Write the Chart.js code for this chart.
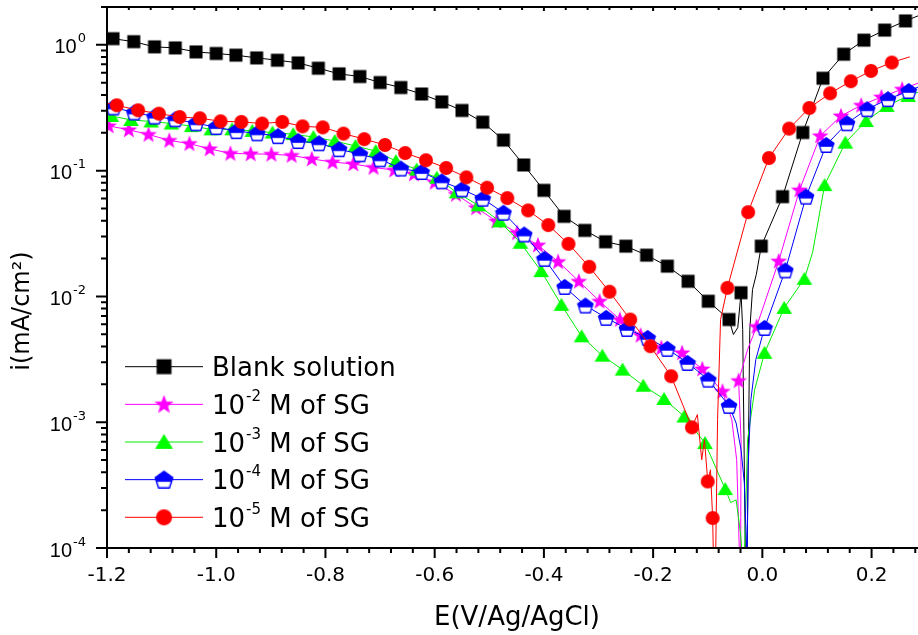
<!DOCTYPE html>
<html>
<head>
<meta charset="utf-8">
<script src="https://cdn.jsdelivr.net/npm/chart.js@4.4.0/dist/chart.umd.min.js"></script>
<style>html,body{margin:0;padding:0;background:#fff}</style>
</head>
<body>
<canvas id="tafel" width="918" height="635"></canvas>
<script>
// E in V vs Ag/AgCl, i in mA/cm2.
// m = 1 where a symbol sits, 0 for bare trace points (noise, spikes, ends)
const blankE = [-1.200,-1.189,-1.151,-1.113,-1.075,-1.037,-1.000,-0.964,-0.926,-0.888,-0.850,-0.813,-0.775,-0.737,-0.700,-0.662,-0.624,-0.587,-0.550,-0.512,-0.474,-0.437,-0.400,-0.363,-0.325,-0.287,-0.250,-0.212,-0.174,-0.136,-0.099,-0.061,-0.053,-0.045,-0.039,-0.036,-0.031,-0.028,-0.023,-0.018,-0.011,-0.002,0.037,0.074,0.111,0.149,0.186,0.224,0.262,0.298];
const blankI = [1.17,1.12,1.06,0.964,0.946,0.879,0.854,0.828,0.788,0.755,0.719,0.652,0.588,0.560,0.502,0.458,0.407,0.352,0.301,0.243,0.175,0.111,0.0697,0.0433,0.0335,0.0272,0.0251,0.0213,0.0174,0.0132,0.00916,0.00655,0.00498,0.00565,0.0107,0.00545,0.00008,0.00008,0.00545,0.01135,0.0150,0.0251,0.0621,0.201,0.543,0.843,1.09,1.31,1.55,1.79];
const blankM = [0,1,1,1,1,1,1,1,1,1,1,1,1,1,1,1,1,1,1,1,1,1,1,1,1,1,1,1,1,1,1,1,0,0,1,0,0,0,0,0,0,1,1,1,1,1,1,1,1,0];

const sg2E = [-1.200,-1.197,-1.160,-1.124,-1.086,-1.049,-1.012,-0.974,-0.937,-0.899,-0.862,-0.825,-0.787,-0.749,-0.712,-0.674,-0.638,-0.600,-0.561,-0.524,-0.487,-0.449,-0.411,-0.374,-0.336,-0.298,-0.261,-0.223,-0.185,-0.147,-0.110,-0.073,-0.056,-0.047,-0.0416,-0.0398,-0.039,-0.0435,-0.027,-0.0105,0.030,0.068,0.106,0.144,0.181,0.218,0.256,0.285];
const sg2I = [0.234,0.227,0.211,0.194,0.174,0.164,0.149,0.137,0.136,0.135,0.132,0.124,0.117,0.113,0.106,0.101,0.0940,0.0807,0.0648,0.0507,0.0397,0.0321,0.0256,0.0189,0.0132,0.00916,0.00655,0.00491,0.00390,0.00356,0.00265,0.00176,0.00105,0.000503,0.00008,0.00008,0.000726,0.00214,0.00378,0.00576,0.0191,0.0701,0.189,0.272,0.331,0.385,0.444,0.496];
const sg2M = [0,1,1,1,1,1,1,1,1,1,1,1,1,1,1,1,1,1,1,1,1,1,1,1,1,1,1,1,1,1,1,1,0,0,0,0,0,1,0,1,1,1,1,1,1,1,1,0];

const sg3E = [-1.200,-1.192,-1.156,-1.119,-1.082,-1.045,-1.009,-0.971,-0.934,-0.897,-0.859,-0.822,-0.783,-0.745,-0.708,-0.671,-0.633,-0.596,-0.560,-0.520,-0.481,-0.443,-0.405,-0.368,-0.331,-0.293,-0.256,-0.218,-0.180,-0.143,-0.105,-0.068,-0.058,-0.048,-0.040,-0.036,-0.033,-0.027,-0.014,0.004,0.040,0.077,0.092,0.114,0.152,0.190,0.228,0.267,0.285];
const sg3I = [0.286,0.272,0.253,0.246,0.237,0.226,0.213,0.213,0.207,0.201,0.195,0.185,0.172,0.157,0.143,0.119,0.102,0.0879,0.0672,0.053,0.0395,0.0267,0.0159,0.00857,0.00482,0.00338,0.00262,0.00195,0.00153,0.00111,0.000683,0.000294,0.000230,0.000241,0.000131,0.00008,0.00008,0.000726,0.00182,0.00356,0.00811,0.0138,0.0224,0.0768,0.167,0.248,0.327,0.393,0.420];
const sg3M = [0,1,1,1,1,1,1,1,1,1,1,1,1,1,1,1,1,1,1,1,1,1,1,1,1,1,1,1,1,1,1,1,0,0,0,0,0,0,0,1,1,1,0,1,1,1,1,1,0];

const sg4E = [-1.200,-1.188,-1.150,-1.113,-1.075,-1.037,-1.000,-0.963,-0.925,-0.887,-0.850,-0.812,-0.775,-0.737,-0.700,-0.662,-0.624,-0.587,-0.550,-0.512,-0.474,-0.436,-0.399,-0.362,-0.324,-0.286,-0.248,-0.210,-0.174,-0.137,-0.099,-0.061,-0.048,-0.039,-0.033,-0.028,-0.027,-0.026,-0.021,-0.012,0.004,0.042,0.080,0.117,0.155,0.192,0.230,0.268,0.285];
const sg4I = [0.331,0.318,0.290,0.269,0.256,0.238,0.222,0.206,0.198,0.188,0.172,0.165,0.148,0.135,0.123,0.104,0.0975,0.0822,0.0710,0.0598,0.0463,0.0311,0.0199,0.0119,0.00847,0.00676,0.00552,0.00468,0.00383,0.00296,0.00218,0.00135,0.000986,0.000604,0.000328,0.00008,0.00008,0.000445,0.00151,0.00315,0.00562,0.0161,0.0621,0.160,0.238,0.308,0.370,0.430,0.461];
const sg4M = [0,1,1,1,1,1,1,1,1,1,1,1,1,1,1,1,1,1,1,1,1,1,1,1,1,1,1,1,1,1,1,1,0,0,0,0,0,0,0,0,1,1,1,1,1,1,1,1,0];

const sg5E = [-1.200,-1.182,-1.143,-1.105,-1.067,-1.030,-0.992,-0.954,-0.916,-0.879,-0.842,-0.805,-0.767,-0.729,-0.691,-0.654,-0.616,-0.579,-0.542,-0.504,-0.467,-0.429,-0.392,-0.355,-0.317,-0.280,-0.242,-0.205,-0.167,-0.129,-0.119,-0.111,-0.106,-0.100,-0.095,-0.091,-0.0895,-0.0856,-0.082,-0.0765,-0.064,-0.026,0.012,0.049,0.086,0.124,0.162,0.199,0.237,0.270];
const sg5I = [0.343,0.331,0.302,0.284,0.267,0.261,0.247,0.244,0.237,0.244,0.225,0.221,0.197,0.178,0.160,0.138,0.121,0.105,0.0885,0.0732,0.0605,0.0483,0.0369,0.0262,0.0172,0.0109,0.00655,0.00402,0.00232,0.00091,0.00115,0.000503,0.000726,0.000338,0.000419,0.000173,0.00008,0.00008,0.00105,0.00655,0.0117,0.0468,0.126,0.216,0.315,0.412,0.514,0.621,0.724,0.803];
const sg5M = [0,1,1,1,1,1,1,1,1,1,1,1,1,1,1,1,1,1,1,1,1,1,1,1,1,1,1,1,1,1,0,0,0,1,0,1,0,0,0,0,1,1,1,1,1,1,1,1,1,0];

const names = ['Blank solution', '10^-2 M of SG', '10^-3 M of SG', '10^-4 M of SG', '10^-5 M of SG'];
const xTicks = [-1.2, -1.0, -0.8, -0.6, -0.4, -0.2, 0.0, 0.2];
const yTicks = [1e-4, 1e-3, 1e-2, 1e-1, 1];

// symbols, drawn once on small canvases
function symbol(kind, color) {
  const s = 18, m = s / 2;
  const c = document.createElement('canvas');
  c.width = c.height = s;
  const g = c.getContext('2d');
  g.fillStyle = color; g.strokeStyle = color;
  g.beginPath();
  if (kind === 'square') {
    g.rect(m - 6.5, m - 6.5, 13, 13); g.fill();
  } else if (kind === 'circle') {
    g.arc(m, m, 7, 0, Math.PI * 2); g.fill();
  } else if (kind === 'triangle') {
    g.moveTo(m, m - 7); g.lineTo(m + 7.8, m + 6); g.lineTo(m - 7.8, m + 6); g.closePath(); g.fill();
  } else if (kind === 'star') {
    for (let k = 0; k < 10; k++) {
      const r = k % 2 ? 3.6 : 8.8, a = -Math.PI / 2 + k * Math.PI / 5;
      g.lineTo(m + r * Math.cos(a), m + 0.5 + r * Math.sin(a));
    }
    g.closePath(); g.fill();
  } else if (kind === 'pentagon') {
    for (let k = 0; k < 5; k++) {
      const a = -Math.PI / 2 + k * 2 * Math.PI / 5;
      g.lineTo(m + 8 * Math.cos(a), m + 0.8 + 8 * Math.sin(a));
    }
    g.closePath();
    g.fillStyle = '#fff'; g.fill();
    g.save(); g.clip(); g.fillStyle = color; g.fillRect(0, 0, s, m + 1.8); g.restore();
    g.lineWidth = 1.3; g.stroke();
  }
  return c;
}

const series = [
  {E: blankE, I: blankI, M: blankM, color: '#000000', sym: symbol('square', '#000000')},
  {E: sg2E, I: sg2I, M: sg2M, color: '#ff00ff', sym: symbol('star', '#ff00ff')},
  {E: sg3E, I: sg3I, M: sg3M, color: '#00ee00', sym: symbol('triangle', '#00ff00')},
  {E: sg4E, I: sg4I, M: sg4M, color: '#0000ff', sym: symbol('pentagon', '#0000ff')},
  {E: sg5E, I: sg5I, M: sg5M, color: '#ff0000', sym: symbol('circle', '#ff0000')}
];

function drawRich(ctx, text, x, y, size, supSize) {
  // "10^-2 M of SG" -> 10, raised -2, rest
  const parts = text.split(/\^(-?\d+)/);
  ctx.textAlign = 'left';
  ctx.textBaseline = 'alphabetic';
  for (let k = 0; k < parts.length; k++) {
    const sup = k % 2 === 1;
    ctx.font = (sup ? supSize : size) + 'px "DejaVu Sans"';
    ctx.fillText(parts[k], x + (sup ? 1 : 0), sup ? y - 13 : y);
    x += ctx.measureText(parts[k]).width + (sup ? 1 : 0);
  }
}

const frame = {
  id: 'frame',
  afterDraw(chart) {
    const {ctx, chartArea: a} = chart;
    const xs = chart.scales.x, ys = chart.scales.y;
    ctx.save();
    ctx.strokeStyle = '#000';
    ctx.fillStyle = '#000';
    ctx.lineWidth = 2;
    ctx.beginPath();
    ctx.moveTo(a.right + 2, a.top); ctx.lineTo(a.left, a.top);
    ctx.lineTo(a.left, a.bottom); ctx.lineTo(a.right + 2, a.bottom);
    ctx.stroke();

    // log ticks on the left
    ctx.beginPath();
    yTicks.forEach(d => {
      const py = ys.getPixelForValue(d);
      ctx.moveTo(a.left - 11, py); ctx.lineTo(a.left, py);
      for (let k = 2; k <= 9; k++) {
        if (k * d > ys.max) break;
        const q = ys.getPixelForValue(k * d);
        ctx.moveTo(a.left - 6, q); ctx.lineTo(a.left, q);
      }
    });
    // bottom ticks out, top ticks in, every 0.04 V
    for (let n = 0; ; n++) {
      const v = xTicks[0] + n * 0.04;
      if (v > xs.max + 1e-9) break;
      const px = xs.getPixelForValue(v);
      const major = n % 5 === 0;
      ctx.moveTo(px, a.bottom); ctx.lineTo(px, a.bottom + (major ? 10 : 5));
      ctx.moveTo(px, a.top); ctx.lineTo(px, a.top + (major ? 4 : 3));
    }
    ctx.stroke();

    // decade labels
    ctx.textBaseline = 'alphabetic';
    ctx.textAlign = 'left';
    yTicks.forEach(d => {
      const py = ys.getPixelForValue(d);
      const e = String(Math.round(Math.log10(d)));
      ctx.font = '13px "DejaVu Sans"';
      const ew = ctx.measureText(e).width;
      ctx.font = '20px "Liberation Sans"';
      const bw = ctx.measureText('10').width;
      const x0 = a.left - 21 - ew - 1 - bw;
      ctx.fillText('10', x0, py + 8.5);
      ctx.font = '13px "DejaVu Sans"';
      ctx.fillText(e, x0 + bw + 1, py - 2.5);
    });

    // axis titles
    ctx.font = '26px "DejaVu Sans"';
    ctx.textAlign = 'center';
    ctx.fillText('E(V/Ag/AgCl)', 517, 625);
    ctx.save();
    ctx.translate(23, 311);
    ctx.rotate(-Math.PI / 2);
    ctx.font = '24px "DejaVu Sans"';
    ctx.textBaseline = 'middle';
    ctx.fillText('i(mA/cm²)', 0, 0);
    ctx.restore();

    // legend
    series.forEach((s, k) => {
      const ly = 366.7 + k * 37.65;
      ctx.strokeStyle = s.color;
      ctx.lineWidth = 1;
      ctx.beginPath(); ctx.moveTo(125, ly); ctx.lineTo(203, ly); ctx.stroke();
      const w = s.sym.width * 1.15;
      ctx.drawImage(s.sym, 164 - w / 2, ly - w / 2, w, w);
      ctx.fillStyle = '#000';
      drawRich(ctx, names[k], 212, ly + 9.5, 26, 15);
    });
    ctx.restore();
  }
};

new Chart(document.getElementById('tafel'), {
  type: 'line',
  data: {
    datasets: series.map((s, k) => ({
      label: names[k],
      data: s.E.map((e, j) => ({x: e, y: s.I[j]})),
      borderColor: s.color,
      borderWidth: 1,
      pointStyle: s.sym,
      pointRadius: c => s.M[c.dataIndex] ? 7 : 0,
      pointHoverRadius: c => s.M[c.dataIndex] ? 7 : 0,
      tension: 0,
      fill: false,
      order: 5 - k
    }))
  },
  options: {
    responsive: false,
    animation: false,
    devicePixelRatio: 1,
    layout: {padding: {top: 7, right: 0, bottom: 0, left: 0}},
    plugins: {legend: {display: false}, tooltip: {enabled: false}},
    scales: {
      x: {
        type: 'linear',
        min: -1.2,
        max: 0.285,
        afterBuildTicks: sc => { sc.ticks = xTicks.map(v => ({value: v})); },
        afterFit: sc => { sc.height = 87; },
        grid: {display: false, drawTicks: false},
        border: {display: false},
        ticks: {
          autoSkip: false, maxRotation: 0, padding: 16, color: '#000',
          font: {family: 'DejaVu Sans', size: 20},
          callback: v => Number(v).toFixed(1)
        }
      },
      y: {
        type: 'logarithmic',
        min: 1e-4,
        max: 2,
        afterFit: sc => { sc.width = 107; },
        grid: {display: false, drawTicks: false},
        border: {display: false},
        ticks: {display: false}
      }
    }
  },
  plugins: [frame]
});
</script>
</body>
</html>
